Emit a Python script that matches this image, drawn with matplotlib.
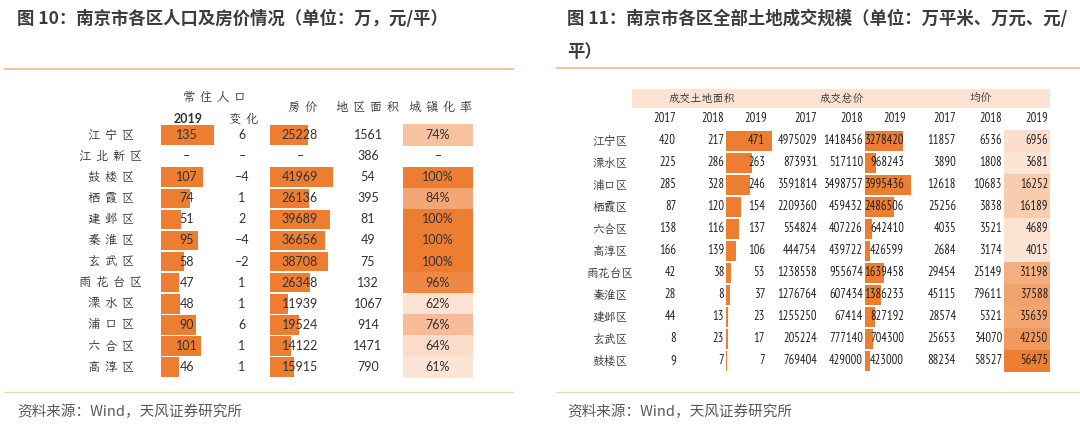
import numpy as np
import matplotlib
matplotlib.use('Agg')
import matplotlib.pyplot as plt
from matplotlib import font_manager as fm
from matplotlib.colors import LinearSegmentedColormap, Normalize
from matplotlib.patches import Rectangle

nan = np.nan
# ---------------- Left table data ----------------
districts_l = ['江宁区', '江北新区', '鼓楼区', '栖霞区', '建邺区', '秦淮区', '玄武区',
               '雨花台区', '溧水区', '浦口区', '六合区', '高淳区']
pop_2019 = [135, nan, 107, 74, 51, 95, 58, 47, 48, 90, 101, 46]
pop_change = [6, nan, -4, 1, 2, -4, -2, 1, 1, 6, 1, 1]
house_price = [25228, nan, 41969, 26136, 39689, 36656, 38708, 26348, 11939, 19524, 14122, 15915]
land_size = [1561, 386, 54, 395, 81, 49, 75, 132, 1067, 914, 1471, 790]
urban_rate = [74, nan, 100, 84, 100, 100, 100, 96, 62, 76, 64, 61]

# ---------------- Right table data ----------------
districts_r = ['江宁区', '溧水区', '浦口区', '栖霞区', '六合区', '高淳区', '雨花台区',
               '秦淮区', '建邺区', '玄武区', '鼓楼区']
years = ['2017', '2018', '2019']
area_2017 = [420, 225, 285, 87, 138, 166, 42, 28, 44, 8, 9]
area_2018 = [217, 286, 328, 120, 116, 139, 38, 8, 13, 23, 7]
area_2019 = [471, 263, 246, 154, 137, 106, 53, 37, 23, 17, 7]
total_2017 = [4975029, 873931, 3591814, 2209360, 554824, 444754, 1238558, 1276764, 1255250, 205224, 769404]
total_2018 = [1418456, 517110, 3498757, 459432, 407226, 439722, 955674, 607434, 67414, 777140, 429000]
total_2019 = [3278420, 968243, 3995436, 2486506, 642410, 426599, 1639458, 1386233, 827192, 704300, 423000]
avg_2017 = [11857, 3890, 12618, 25256, 4035, 2684, 29454, 45115, 28574, 25653, 88234]
avg_2018 = [6536, 1808, 10683, 3838, 3521, 3174, 25149, 79611, 5321, 34070, 58527]
avg_2019 = [6956, 3681, 16252, 16189, 4689, 4015, 31198, 37588, 35639, 42250, 56475]

title_l = '图 10：南京市各区人口及房价情况（单位：万，元/平）'
title_r1 = '图 11：南京市各区全部土地成交规模（单位：万平米、万元、元/'
title_r2 = '平）'
source = '资料来源：Wind，天风证券研究所'

# ---------------- fonts ----------------
names = {f.name for f in fm.fontManager.ttflist}
def pick(cands, default='DejaVu Sans'):
    for c in cands:
        if c in names:
            return c
    return default

CJK = ['Noto Sans CJK SC', 'DejaVu Sans']
KAI = [pick(['LXGW WenKai TC', 'LXGW WenKai Mono TC', 'Noto Serif CJK JP'], 'Noto Sans CJK SC'),
       'Noto Sans CJK SC', 'DejaVu Sans']
NUM_L = [pick(['Lato', 'Open Sans']), 'DejaVu Sans']
NUM_R = [pick(['PT Sans Narrow', 'Archivo Narrow', 'Roboto Condensed', 'Liberation Sans']), 'DejaVu Sans']
num_r_size = 9

ORANGE = '#ED7D31'
cmap = LinearSegmentedColormap.from_list('heat', ['#FCE4D6', ORANGE])

W, H = 1080, 434
fig = plt.figure(figsize=(W / 100, H / 100), dpi=100)
fig.patch.set_facecolor('white')

base = fig.add_axes([0, 0, 1, 1])
base.set_xlim(0, W); base.set_ylim(H, 0); base.axis('off')

# separator lines
base.plot([5, 513], [69, 69], color='#F5BE8E', lw=1.3)
base.plot([557, 1080], [68, 68], color='#F5BE8E', lw=1.3)
base.plot([5, 513], [392, 392], color='#EDD3B3', lw=1.0)
base.plot([557, 1080], [392, 392], color='#EDD3B3', lw=1.0)
# header band right
base.add_patch(Rectangle((632, 89), 418, 18.5, color='#FBE3D3', lw=0))


def bar_axes(x_px, w_px, y_center0, dy, n, vmax):
    top = y_center0 - dy / 2
    h = n * dy
    ax = fig.add_axes([x_px / W, 1 - (top + h) / H, w_px / W, h / H])
    ax.set_xlim(0, vmax)
    ax.set_ylim(n - 0.5, -0.5)
    ax.axis('off')
    ax.patch.set_alpha(0)
    return ax


def valid(vals):
    return [i for i, v in enumerate(vals) if not np.isnan(v)]

# ---------------- Left bars ----------------
nL = len(districts_l)
yL0, dyL = 135, 21.1
idxL = np.arange(nL)

vi = valid(pop_2019)
ax_pop = bar_axes(161, 70, yL0, dyL, nL, 70 / (53 / 135))
ax_pop.barh([idxL[i] for i in vi], [pop_2019[i] for i in vi], height=0.92, color=ORANGE, lw=0)

vi = valid(house_price)
ax_hp = bar_axes(270, 80, yL0, dyL, nL, 80 / (63 / 41969))
ax_hp.barh([idxL[i] for i in vi], [house_price[i] for i in vi], height=0.92, color=ORANGE, lw=0)

vi = valid(urban_rate)
normL = Normalize(np.nanmin(urban_rate), np.nanmax(urban_rate))
ax_ur = bar_axes(403, 70, yL0, dyL, nL, 1)
ax_ur.barh([idxL[i] for i in vi], [1] * len(vi), height=1.0,
           color=[cmap(normL(urban_rate[i])) for i in vi], lw=0)

# ---------------- Right bars ----------------
nR = len(districts_r)
yR0, dyR = 141, 22.0
idxR = np.arange(nR)

ax_a19 = bar_axes(726, 50, yR0, dyR, nR, 50 / (46 / 471))
ax_a19.barh(idxR, area_2019, height=0.95, color=ORANGE, lw=0)

ax_t19 = bar_axes(865, 50, yR0, dyR, nR, 50 / (46 / 3995436))
ax_t19.barh(idxR, total_2019, height=0.95, color=ORANGE, lw=0)

normR = Normalize(min(avg_2019), max(avg_2019))
ax_v19 = bar_axes(1004, 46, yR0, dyR, nR, 1)
ax_v19.barh(idxR, [1] * nR, height=1.0, color=[cmap(normR(v)) for v in avg_2019], lw=0)

# ---------------- Text layer ----------------
top = fig.add_axes([0, 0, 1, 1])
top.set_xlim(0, W); top.set_ylim(H, 0); top.axis('off'); top.patch.set_alpha(0)

TC = '#3c3c3c'
top.text(17, 19, title_l, family=CJK, fontsize=12.5, fontweight='bold', color=TC, va='center', ha='left')
top.text(567, 19, title_r1, family=CJK, fontsize=12.5, fontweight='bold', color=TC, va='center', ha='left')
top.text(567, 52, title_r2, family=CJK, fontsize=12.5, fontweight='bold', color=TC, va='center', ha='left')
top.text(17, 412, source, family=CJK, fontsize=10.5, color='#595959', va='center', ha='left')
top.text(567, 412, source, family=CJK, fontsize=10.5, color='#595959', va='center', ha='left')

def spaced(s):
    return ' '.join(list(s))

LC = '#333333'
# left headers
top.text(215, 97, spaced('常住人口'), family=KAI, fontsize=9, color=LC, ha='center', va='center')
top.text(188, 119, '2019', family=NUM_L, fontsize=9, fontweight='bold', color=LC, ha='center', va='center')
top.text(244, 119, spaced('变化'), family=KAI, fontsize=9, color=LC, ha='center', va='center')
top.text(303, 107, spaced('房价'), family=KAI, fontsize=9, color=LC, ha='center', va='center')
top.text(368, 107, spaced('地区面积'), family=KAI, fontsize=9, color=LC, ha='center', va='center')
top.text(441, 107, spaced('城镇化率'), family=KAI, fontsize=9, color=LC, ha='center', va='center')

def fmt_int(v):
    if np.isnan(v):
        return '–'
    v = int(v)
    return ('–' + str(-v)) if v < 0 else str(v)

NC = '#333333'
for i in range(nL):
    y = yL0 + i * dyL
    top.text(111, y, spaced(districts_l[i]), family=KAI, fontsize=9, color=LC, ha='center', va='center')
    top.text(187, y, fmt_int(pop_2019[i]), family=NUM_L, fontsize=9, color=NC, ha='center', va='center')
    top.text(242, y, fmt_int(pop_change[i]), family=NUM_L, fontsize=9, color=NC, ha='center', va='center')
    top.text(300, y, fmt_int(house_price[i]), family=NUM_L, fontsize=9, color=NC, ha='center', va='center')
    top.text(368, y, fmt_int(land_size[i]), family=NUM_L, fontsize=9, color=NC, ha='center', va='center')
    ur = '–' if np.isnan(urban_rate[i]) else f'{int(urban_rate[i])}%'
    top.text(438, y, ur, family=NUM_L, fontsize=9, color=NC, ha='center', va='center')

# right headers
top.text(702, 98, '成交土地面积', family=KAI, fontsize=8, color=LC, ha='center', va='center')
top.text(842, 98, '成交总价', family=KAI, fontsize=8, color=LC, ha='center', va='center')
top.text(981, 98, '均价', family=KAI, fontsize=8, color=LC, ha='center', va='center')

col_right = [676, 724, 767, 817, 863, 906, 956, 1002, 1048]
for g in range(3):
    for k, yr in enumerate(years):
        top.text(col_right[g * 3 + k], 118, yr, family=NUM_R, fontsize=num_r_size, color='#222222',
                 ha='right', va='center')

cols = [area_2017, area_2018, area_2019, total_2017, total_2018, total_2019, avg_2017, avg_2018, avg_2019]
for i in range(nR):
    y = yR0 + i * dyR
    top.text(610, y, districts_r[i], family=KAI, fontsize=8.5, color=LC, ha='center', va='center')
    for c, vals in enumerate(cols):
        xr = col_right[c]
        if c in (2, 5):
            xr = col_right[c] - 2
        top.text(xr, y, str(vals[i]), family=NUM_R, fontsize=num_r_size, color='#222222',
                 ha='right', va='center')

fig.savefig('out.png', dpi=100, facecolor='white')
